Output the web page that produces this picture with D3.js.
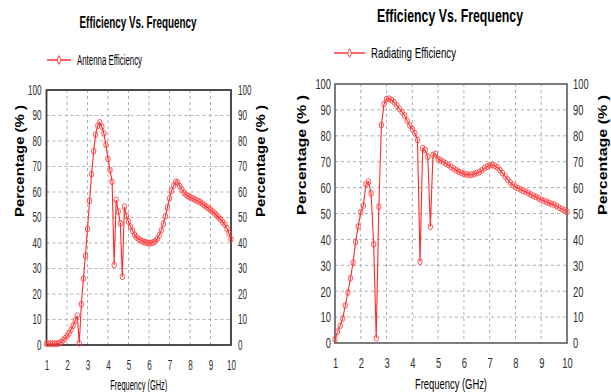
<!DOCTYPE html>
<html>
<head>
<meta charset="utf-8">
<script src="https://cdn.jsdelivr.net/npm/d3@7"></script>
<style>
body { margin: 0; background: #fff; }
text { font-family: "Liberation Sans Narrow", "Liberation Sans", "DejaVu Sans Condensed", sans-serif; }
</style>
</head>
<body>
<svg id="chart" width="611" height="392"></svg>
<script>
// frequency points (GHz), shared by both curves
const freqGHz = [
    1.0, 1.1, 1.2, 1.3, 1.4, 1.5, 1.6, 1.7, 1.8, 1.9,
    2.0, 2.1, 2.2, 2.3, 2.4, 2.5, 2.6, 2.7, 2.8, 2.9,
    3.0, 3.1, 3.2, 3.3, 3.4, 3.5, 3.6, 3.7, 3.8, 3.9,
    4.0, 4.1, 4.2, 4.3, 4.4, 4.5, 4.6, 4.7, 4.8, 4.9,
    5.0, 5.1, 5.2, 5.3, 5.4, 5.5, 5.6, 5.7, 5.8, 5.9,
    6.0, 6.1, 6.2, 6.3, 6.4, 6.5, 6.6, 6.7, 6.8, 6.9,
    7.0, 7.1, 7.2, 7.3, 7.4, 7.5, 7.6, 7.7, 7.8, 7.9,
    8.0, 8.1, 8.2, 8.3, 8.4, 8.5, 8.6, 8.7, 8.8, 8.9,
    9.0, 9.1, 9.2, 9.3, 9.4, 9.5, 9.6, 9.7, 9.8, 9.9,
    10.0
];
const antennaEff = [
    0.5, 0.5, 0.5, 0.5, 0.5, 0.5, 0.7, 1.1, 1.8, 2.6,
    3.5, 4.6, 6.0, 7.6, 9.5, 11.5, 0.7, 16, 26, 35,
    45.5, 56.5, 67, 76, 82.5, 86, 87.3, 85.6, 83, 78.5,
    73, 68.6, 64, 31.4, 56.9, 52.3, 47.7, 26.8, 54.2, 50.6,
    48.4, 46.4, 44.8, 43.2, 42.2, 41.5, 41, 40.6, 40.3, 40.1,
    40, 40, 40.2, 40.7, 41.6, 43, 45, 47.5, 50.5, 54,
    57.5, 60.5, 62.5, 64, 63.8, 62.3, 61, 59.8, 59, 58.4,
    58, 57.6, 57.2, 56.8, 56.4, 56, 55.4, 54.8, 54.2, 53.6,
    53, 52.4, 51.6, 50.8, 50, 49.2, 48.2, 47.2, 45.8, 43.8,
    41.5
];
const radiatingEff = [
    1.4, 4.3, 6.6, 9.5, 14.5, 19.5, 25, 31, 39, 45,
    50.5, 53, 61.3, 62.3, 57.8, 38.1, 1.8, 52.6, 84.2, 92.2,
    94.2, 94.3, 93.8, 92.9, 91.7, 90.4, 89.2, 87.8, 85.8, 84,
    82.6, 81, 78.4, 31.4, 75.2, 74.5, 71.9, 44.9, 72.6, 73,
    71, 70.5, 70, 69.3, 68.7, 68, 67.3, 66.7, 66.1, 65.7,
    65.3, 65.1, 64.9, 65, 65.2, 65.6, 66, 66.7, 67.5, 68.1,
    68.6, 68.7, 68.4, 67.8, 66.8, 65.6, 64.3, 63.1, 62, 61,
    60.3, 59.8, 59.3, 58.8, 58.4, 57.9, 57.3, 56.8, 56.4, 55.9,
    55.3, 54.9, 54.5, 54.1, 53.7, 53.4, 52.9, 52.2, 51.7, 51.2,
    50.6
];
const xTicks = [1, 2, 3, 4, 5, 6, 7, 8, 9, 10];
const yTicks = [0, 10, 20, 30, 40, 50, 60, 70, 80, 90, 100];

const svg = d3.select("#chart");

function drawChart(c, values) {
    const x = d3.scaleLinear().domain([1, 10]).range([c.left, c.right]);
    const y = d3.scaleLinear().domain([0, 100]).range([c.bottom, c.top]);
    const g = svg.append("g");

    // title + legend
    g.append("text")
        .attr("x", c.titleX).attr("y", c.titleY)
        .attr("text-anchor", "middle")
        .attr("font-size", c.titleSize).attr("font-weight", "bold")
        .attr("textLength", c.titleW).attr("lengthAdjust", "spacingAndGlyphs")
        .text("Efficiency Vs. Frequency");

    g.append("line")
        .attr("x1", c.legX).attr("x2", c.legX + c.legLen)
        .attr("y1", c.legY).attr("y2", c.legY)
        .attr("stroke", "#ff3333").attr("stroke-width", 1.5);
    g.append("path")
        .attr("d", d3.symbol(d3.symbolDiamond, 22)())
        .attr("transform", `translate(${c.legX + c.legLen / 2},${c.legY}) scale(0.8,1)`)
        .attr("fill", "#fff").attr("stroke", "#ff3333");
    g.append("text")
        .attr("x", c.legX + c.legLen + 6).attr("y", c.legY + 5)
        .attr("font-size", c.legSize)
        .attr("textLength", c.legTextW).attr("lengthAdjust", "spacingAndGlyphs")
        .text(c.legend);

    // dashed grid
    g.append("g").selectAll("line")
        .data(xTicks.slice(1, -1)).join("line")
        .attr("x1", d => x(d)).attr("x2", d => x(d))
        .attr("y1", c.top).attr("y2", c.bottom)
        .attr("stroke", "#b0b0b0").attr("stroke-dasharray", "3,3");
    g.append("g").selectAll("line")
        .data(yTicks.slice(1, -1)).join("line")
        .attr("x1", c.left).attr("x2", c.right)
        .attr("y1", d => y(d)).attr("y2", d => y(d))
        .attr("stroke", "#b0b0b0").attr("stroke-dasharray", "3,3");

    // axes (labels only, frame drawn below)
    const xAxis = g.append("g")
        .attr("transform", `translate(0,${c.bottom})`)
        .call(d3.axisBottom(x).tickValues(xTicks).tickSize(0).tickPadding(c.xPad).tickFormat(d3.format("d")));
    const yAxisL = g.append("g")
        .attr("transform", `translate(${c.left},0)`)
        .call(d3.axisLeft(y).tickValues(yTicks).tickSize(0).tickPadding(c.yPad));
    const yAxisR = g.append("g")
        .attr("transform", `translate(${c.right},0)`)
        .call(d3.axisRight(y).tickValues(yTicks).tickSize(0).tickPadding(c.yPad + 2));
    [xAxis, yAxisL, yAxisR].forEach(a => {
        a.select(".domain").remove();
        a.selectAll("text")
            .attr("font-family", null)
            .attr("font-size", c.tickSize)
            .attr("fill", "#2e2e2e")
            .attr("textLength", d => String(d).length * c.charW)
            .attr("lengthAdjust", "spacingAndGlyphs");
    });

    // frame
    g.append("rect")
        .attr("x", c.left).attr("y", c.top)
        .attr("width", c.right - c.left).attr("height", c.bottom - c.top)
        .attr("fill", "none").attr("stroke", c.frame).attr("stroke-width", 1.8);

    // axis titles
    g.append("text")
        .attr("x", (c.left + c.right) / 2).attr("y", c.xTitleY)
        .attr("text-anchor", "middle").attr("font-size", c.xTitleSize)
        .attr("textLength", c.xTitleW).attr("lengthAdjust", "spacingAndGlyphs")
        .text("Frequency (GHz)");
    [c.yTitleL, c.yTitleR].forEach(px => {
        g.append("text")
            .attr("transform", `translate(${px},${c.yTitleCY}) rotate(-90)`)
            .attr("text-anchor", "middle").attr("font-size", c.yTitleSize)
            .attr("font-weight", "bold")
            .attr("textLength", c.yTitleW).attr("lengthAdjust", "spacingAndGlyphs")
            .text("Percentage (% )");
    });

    // curve + markers
    const pts = freqGHz.map((f, i) => ({ f: f, v: values[i] }));
    g.append("path")
        .datum(pts)
        .attr("fill", "none").attr("stroke", "#ff2a2a").attr("stroke-width", 1.1)
        .attr("d", d3.line().x(d => x(d.f)).y(d => y(d.v)));
    g.append("g").selectAll("ellipse")
        .data(pts).join("ellipse")
        .attr("cx", d => x(d.f)).attr("cy", d => y(d.v))
        .attr("rx", 2.2).attr("ry", 3)
        .attr("fill", "none").attr("stroke", "#ff3b3b").attr("stroke-width", 1)
        .attr("stroke-opacity", 0.85);
}

drawChart({
    left: 46.5, right: 231, top: 90, bottom: 345,
    titleX: 138, titleY: 28, titleW: 117, titleSize: 17,
    legend: "Antenna Efficiency", legX: 47, legY: 60, legLen: 24, legTextW: 65, legSize: 14,
    tickSize: 14, charW: 4.5, xPad: 15, yPad: 5, frame: "#3a3a3a",
    xTitleY: 390, xTitleW: 57, xTitleSize: 14,
    yTitleL: 24, yTitleR: 265, yTitleCY: 161, yTitleW: 112, yTitleSize: 13
}, antennaEff);

drawChart({
    left: 335, right: 567, top: 84, bottom: 343,
    titleX: 450, titleY: 22, titleW: 146, titleSize: 19,
    legend: "Radiating Efficiency", legX: 334, legY: 53, legLen: 31, legTextW: 85, legSize: 15,
    tickSize: 15, charW: 5.2, xPad: 14, yPad: 4, frame: "#6e6e6e",
    xTitleY: 389, xTitleW: 72, xTitleSize: 15,
    yTitleL: 306, yTitleR: 607, yTitleCY: 155, yTitleW: 120, yTitleSize: 13
}, radiatingEff);
</script>
</body>
</html>
